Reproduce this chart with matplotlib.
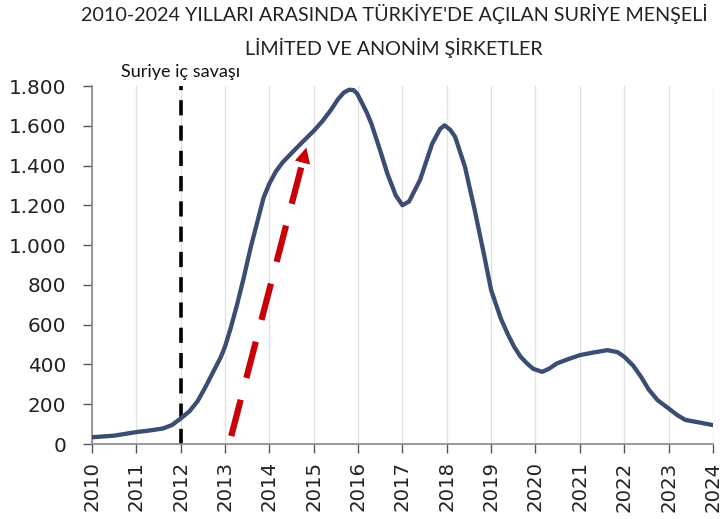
import matplotlib
matplotlib.use("Agg")
import matplotlib.pyplot as plt
from matplotlib.ticker import FuncFormatter

# values (year, count)
years = [2010.0, 2010.5, 2011.0, 2011.3, 2011.6, 2011.8, 2012.0, 2012.2, 2012.38, 2012.55, 2012.75,
         2012.9, 2013.0, 2013.13, 2013.27, 2013.42, 2013.58, 2013.76, 2013.87, 2014.0,
         2014.15, 2014.3, 2014.53, 2014.75, 2015.0, 2015.2, 2015.38, 2015.55, 2015.68,
         2015.8, 2015.9, 2015.98, 2016.1, 2016.2, 2016.3, 2016.5, 2016.66, 2016.85, 2017.0,
         2017.15, 2017.4, 2017.67, 2017.85, 2017.95, 2018.08, 2018.19, 2018.41,
         2018.63, 2018.85, 2019.0, 2019.22, 2019.38, 2019.52, 2019.66, 2019.81, 2019.95, 2020.15, 2020.3,
         2020.48, 2020.75, 2021.0, 2021.3, 2021.62, 2021.85, 2022.0, 2022.2, 2022.38, 2022.55,
         2022.75, 2023.0, 2023.2, 2023.38, 2023.7, 2024.0]
counts = [34, 42, 60, 68, 78, 95, 128, 165, 215, 283, 370,
          435, 490, 585, 700, 835, 990, 1145, 1240, 1310,
          1372, 1417, 1470, 1520, 1575, 1625, 1678, 1735, 1768,
          1782, 1780, 1762, 1710, 1665, 1611, 1475, 1360, 1250, 1201,
          1220, 1330, 1510, 1585, 1603, 1580, 1544, 1394,
          1176, 941, 774, 630, 550, 489, 440, 405, 378, 363, 378,
          405, 428, 447, 460, 472, 462, 439, 395, 338, 275,
          221, 179, 145, 121, 108, 95]

war_year = 2012
war_label = "Suriye iç savaşı"
arrow_start = (2013.14, 40)
arrow_end = (2014.85, 1505)

title = "2010-2024 YILLARI ARASINDA TÜRKİYE'DE AÇILAN SURİYE MENŞELİ\nLİMİTED VE ANONİM ŞİRKETLER"

line_color = "#3B4D72"
red = "#C8000A"

fig = plt.figure(figsize=(7.22, 5.19), dpi=100)
ax = fig.add_axes([0.1274, 0.1445, 0.8600, 0.6895])

ax.plot(years, counts, color=line_color, lw=3.1, solid_joinstyle="round", solid_capstyle="round", zorder=3)

# civil war marker
ax.plot([war_year, war_year], [0, 1800], color="black", lw=2.6, linestyle=(0, (4.2, 2.8)), zorder=2)
ax.text(war_year, 1830, war_label, ha="center", va="bottom", fontsize=13,
        family="Lato", color="#111111")

# dashed red arrow
dx = arrow_end[0] - arrow_start[0]
dy = arrow_end[1] - arrow_start[1]
shaft_end = (arrow_start[0] + dx * 0.93, arrow_start[1] + dy * 0.93)
ax.plot([arrow_start[0], shaft_end[0]], [arrow_start[1], shaft_end[1]], color=red, lw=4.5,
        linestyle=(0, (6, 3.6)), zorder=4)
ax.annotate("", xy=arrow_end, xytext=(arrow_start[0] + dx * 0.9, arrow_start[1] + dy * 0.9),
            arrowprops=dict(arrowstyle="-|>", mutation_scale=28, color=red, lw=0), zorder=4)

ax.set_xlim(2010, 2024)
ax.set_ylim(0, 1800)
ax.set_xticks(range(2010, 2025))
ax.set_yticks(range(0, 1801, 200))
ax.yaxis.set_major_formatter(FuncFormatter(lambda v, p: f"{int(v):,}".replace(",", ".")))
ax.tick_params(axis="x", rotation=90, labelsize=14.2, length=6.5, width=1, color="#555555", pad=6)
ax.tick_params(axis="y", labelsize=14.4, length=6.5, width=1, color="#555555", pad=12)
for lab in ax.get_xticklabels() + ax.get_yticklabels():
    lab.set_color("#222222")

ax.grid(axis="x", color="#E0E0E0", lw=0.9)
ax.set_axisbelow(True)
for s in ["top", "right"]:
    ax.spines[s].set_visible(False)
for s in ["left", "bottom"]:
    ax.spines[s].set_color("#888888")
    ax.spines[s].set_linewidth(1.2)

fig.text(0.546, 0.992, title, ha="center", va="top", fontsize=14.2, family="Lato",
         color="#222222", linespacing=1.78)

fig.savefig("out.png", dpi=100)
